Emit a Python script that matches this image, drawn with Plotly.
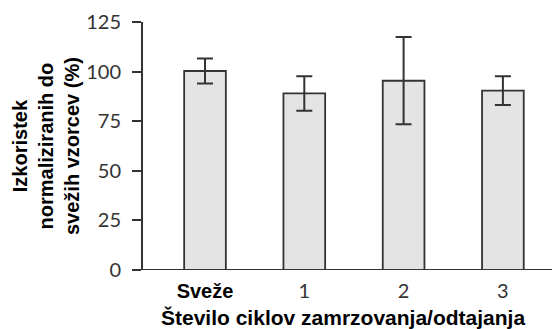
import plotly.graph_objects as go

categories = ["Sveže", "1", "2", "3"]
values = [100.3, 89.0, 95.4, 90.4]
errors = [6.3, 8.7, 22.0, 7.2]
y_ticks = [0, 25, 50, 75, 100, 125]

x_pos = list(range(len(categories)))
tick_text = ['<span style="font-family:Liberation Sans;font-weight:bold;fill:#000">Sveže</span>'] + categories[1:]

# the page body has an 8px margin, so the figure is drawn from (8, 8)
OFF = 8
W, H = 560 - OFF, 329 - OFF
L, R, T, B = 142 - OFF, 0, 22 - OFF, 59
PW = W - L - R
unit = 99.3
x0 = -63 / unit
x1 = x0 + PW / unit

fig = go.Figure()
fig.add_trace(go.Bar(
    x=x_pos, y=values, width=0.42,
    marker=dict(color="#e4e4e4", line=dict(color="#333333", width=1.8)),
    error_y=dict(type="data", array=errors, visible=True, color="#333333", thickness=2, width=8),
))

axis_color = "#333333"
fig.update_layout(
    width=W, height=H,
    margin=dict(l=L, r=R, t=T, b=B),
    paper_bgcolor="white", plot_bgcolor="white",
    showlegend=False,
    xaxis=dict(range=[x0, x1], tickmode="array", tickvals=x_pos, ticktext=tick_text,
               showgrid=False, zeroline=False, showline=False, ticks="",
               ticklabelstandoff=7,
               tickfont=dict(family="Lato", size=20, color="#333333")),
    yaxis=dict(range=[0, 125], tickmode="array", tickvals=y_ticks,
               showgrid=False, zeroline=False, showline=False,
               ticks="outside", ticklen=9, tickwidth=2, tickcolor=axis_color,
               ticklabelstandoff=7,
               tickfont=dict(family="Lato", size=20, color="#333333")),
)
# axis lines (extend a bit past the origin like the reference)
fig.add_shape(type="line", xref="paper", yref="y", x0=0, x1=0, y0=-4.2, y1=125,
              line=dict(color=axis_color, width=2))
fig.add_shape(type="line", xref="paper", yref="y", x0=-9 / PW, x1=1, y0=0, y1=0,
              line=dict(color=axis_color, width=2))
fig.add_annotation(
    text="<b>Izkoristek<br>normaliziranih do<br>svežih vzorcev (%)</b>",
    xref="paper", yref="paper", x=(46 - 142) / PW, y=0.5,
    xanchor="center", yanchor="middle", textangle=-90, showarrow=False,
    font=dict(family="Liberation Sans", size=20, color="#000"),
)
fig.add_annotation(
    text="<b>Število ciklov zamrzovanja/odtajanja</b>",
    xref="paper", yref="paper", x=(342.5 - 142) / PW, y=0, yshift=-35,
    xanchor="center", yanchor="top", showarrow=False, borderpad=0,
    font=dict(family="Liberation Sans", size=21, color="#000"),
)
fig.write_html("out.html")
